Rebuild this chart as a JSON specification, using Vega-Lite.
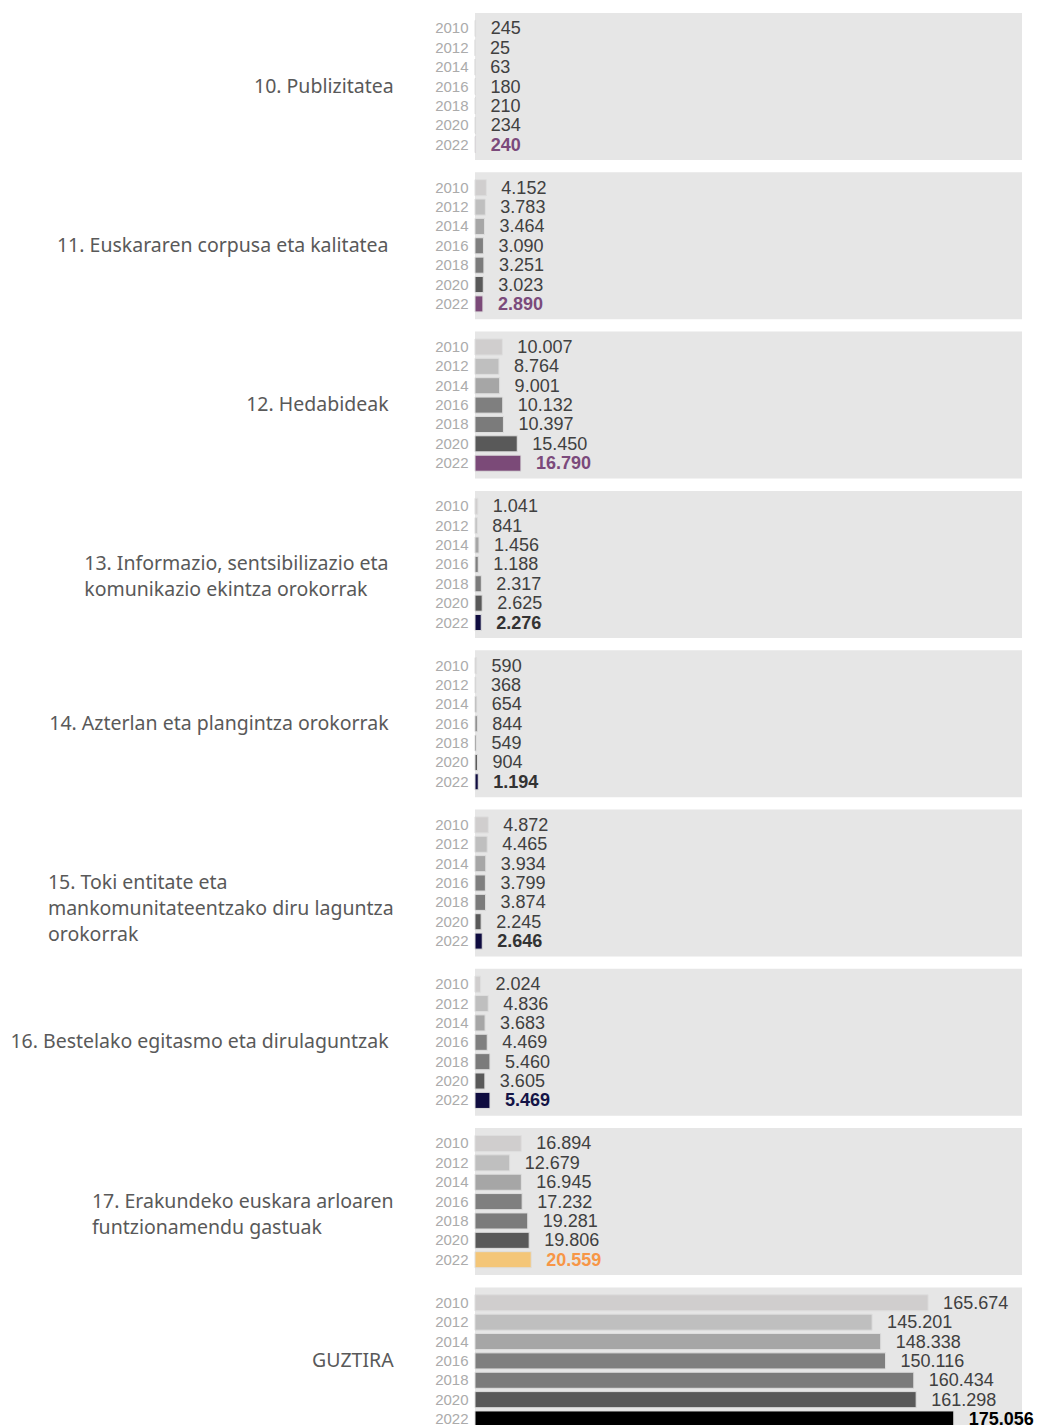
{
  "$schema": "https://vega.github.io/schema/vega-lite/v6.json",
  "padding": {"left": 10, "top": 13, "right": 15, "bottom": 0},
  "background": "#ffffff",
  "config": {
    "view": {"fill": "#e6e6e6", "stroke": null},
    "font": "Liberation Sans",
    "locale": {"number": {"decimal": ",", "thousands": ".", "grouping": [3], "currency": ["", " €"]}}
  },
  "data": {
    "values": [
      {"cat": "10. Publizitatea", "year": 2010, "value": 245},
      {"cat": "10. Publizitatea", "year": 2012, "value": 25},
      {"cat": "10. Publizitatea", "year": 2014, "value": 63},
      {"cat": "10. Publizitatea", "year": 2016, "value": 180},
      {"cat": "10. Publizitatea", "year": 2018, "value": 210},
      {"cat": "10. Publizitatea", "year": 2020, "value": 234},
      {"cat": "10. Publizitatea", "year": 2022, "value": 240},
      {"cat": "11.  Euskararen corpusa eta kalitatea", "year": 2010, "value": 4152},
      {"cat": "11.  Euskararen corpusa eta kalitatea", "year": 2012, "value": 3783},
      {"cat": "11.  Euskararen corpusa eta kalitatea", "year": 2014, "value": 3464},
      {"cat": "11.  Euskararen corpusa eta kalitatea", "year": 2016, "value": 3090},
      {"cat": "11.  Euskararen corpusa eta kalitatea", "year": 2018, "value": 3251},
      {"cat": "11.  Euskararen corpusa eta kalitatea", "year": 2020, "value": 3023},
      {"cat": "11.  Euskararen corpusa eta kalitatea", "year": 2022, "value": 2890},
      {"cat": "12.  Hedabideak", "year": 2010, "value": 10007},
      {"cat": "12.  Hedabideak", "year": 2012, "value": 8764},
      {"cat": "12.  Hedabideak", "year": 2014, "value": 9001},
      {"cat": "12.  Hedabideak", "year": 2016, "value": 10132},
      {"cat": "12.  Hedabideak", "year": 2018, "value": 10397},
      {"cat": "12.  Hedabideak", "year": 2020, "value": 15450},
      {"cat": "12.  Hedabideak", "year": 2022, "value": 16790},
      {"cat": "13.  Informazio, sentsibilizazio eta\nkomunikazio ekintza orokorrak", "year": 2010, "value": 1041},
      {"cat": "13.  Informazio, sentsibilizazio eta\nkomunikazio ekintza orokorrak", "year": 2012, "value": 841},
      {"cat": "13.  Informazio, sentsibilizazio eta\nkomunikazio ekintza orokorrak", "year": 2014, "value": 1456},
      {"cat": "13.  Informazio, sentsibilizazio eta\nkomunikazio ekintza orokorrak", "year": 2016, "value": 1188},
      {"cat": "13.  Informazio, sentsibilizazio eta\nkomunikazio ekintza orokorrak", "year": 2018, "value": 2317},
      {"cat": "13.  Informazio, sentsibilizazio eta\nkomunikazio ekintza orokorrak", "year": 2020, "value": 2625},
      {"cat": "13.  Informazio, sentsibilizazio eta\nkomunikazio ekintza orokorrak", "year": 2022, "value": 2276},
      {"cat": "14.  Azterlan eta plangintza orokorrak", "year": 2010, "value": 590},
      {"cat": "14.  Azterlan eta plangintza orokorrak", "year": 2012, "value": 368},
      {"cat": "14.  Azterlan eta plangintza orokorrak", "year": 2014, "value": 654},
      {"cat": "14.  Azterlan eta plangintza orokorrak", "year": 2016, "value": 844},
      {"cat": "14.  Azterlan eta plangintza orokorrak", "year": 2018, "value": 549},
      {"cat": "14.  Azterlan eta plangintza orokorrak", "year": 2020, "value": 904},
      {"cat": "14.  Azterlan eta plangintza orokorrak", "year": 2022, "value": 1194},
      {"cat": "15.  Toki entitate eta\nmankomunitateentzako diru laguntza\norokorrak", "year": 2010, "value": 4872},
      {"cat": "15.  Toki entitate eta\nmankomunitateentzako diru laguntza\norokorrak", "year": 2012, "value": 4465},
      {"cat": "15.  Toki entitate eta\nmankomunitateentzako diru laguntza\norokorrak", "year": 2014, "value": 3934},
      {"cat": "15.  Toki entitate eta\nmankomunitateentzako diru laguntza\norokorrak", "year": 2016, "value": 3799},
      {"cat": "15.  Toki entitate eta\nmankomunitateentzako diru laguntza\norokorrak", "year": 2018, "value": 3874},
      {"cat": "15.  Toki entitate eta\nmankomunitateentzako diru laguntza\norokorrak", "year": 2020, "value": 2245},
      {"cat": "15.  Toki entitate eta\nmankomunitateentzako diru laguntza\norokorrak", "year": 2022, "value": 2646},
      {"cat": "16.  Bestelako egitasmo eta dirulaguntzak", "year": 2010, "value": 2024},
      {"cat": "16.  Bestelako egitasmo eta dirulaguntzak", "year": 2012, "value": 4836},
      {"cat": "16.  Bestelako egitasmo eta dirulaguntzak", "year": 2014, "value": 3683},
      {"cat": "16.  Bestelako egitasmo eta dirulaguntzak", "year": 2016, "value": 4469},
      {"cat": "16.  Bestelako egitasmo eta dirulaguntzak", "year": 2018, "value": 5460},
      {"cat": "16.  Bestelako egitasmo eta dirulaguntzak", "year": 2020, "value": 3605},
      {"cat": "16.  Bestelako egitasmo eta dirulaguntzak", "year": 2022, "value": 5469},
      {"cat": "17. Erakundeko euskara arloaren\nfuntzionamendu gastuak", "year": 2010, "value": 16894},
      {"cat": "17. Erakundeko euskara arloaren\nfuntzionamendu gastuak", "year": 2012, "value": 12679},
      {"cat": "17. Erakundeko euskara arloaren\nfuntzionamendu gastuak", "year": 2014, "value": 16945},
      {"cat": "17. Erakundeko euskara arloaren\nfuntzionamendu gastuak", "year": 2016, "value": 17232},
      {"cat": "17. Erakundeko euskara arloaren\nfuntzionamendu gastuak", "year": 2018, "value": 19281},
      {"cat": "17. Erakundeko euskara arloaren\nfuntzionamendu gastuak", "year": 2020, "value": 19806},
      {"cat": "17. Erakundeko euskara arloaren\nfuntzionamendu gastuak", "year": 2022, "value": 20559},
      {"cat": "GUZTIRA", "year": 2010, "value": 165674},
      {"cat": "GUZTIRA", "year": 2012, "value": 145201},
      {"cat": "GUZTIRA", "year": 2014, "value": 148338},
      {"cat": "GUZTIRA", "year": 2016, "value": 150116},
      {"cat": "GUZTIRA", "year": 2018, "value": 160434},
      {"cat": "GUZTIRA", "year": 2020, "value": 161298},
      {"cat": "GUZTIRA", "year": 2022, "value": 175056}
    ]
  },
  "spacing": {"row": 12.3},
  "facet": {
    "row": {
      "field": "cat",
      "type": "nominal",
      "title": null,
      "sort": [
        "10. Publizitatea",
        "11.  Euskararen corpusa eta kalitatea",
        "12.  Hedabideak",
        "13.  Informazio, sentsibilizazio eta\nkomunikazio ekintza orokorrak",
        "14.  Azterlan eta plangintza orokorrak",
        "15.  Toki entitate eta\nmankomunitateentzako diru laguntza\norokorrak",
        "16.  Bestelako egitasmo eta dirulaguntzak",
        "17. Erakundeko euskara arloaren\nfuntzionamendu gastuak",
        "GUZTIRA"
      ],
      "header": {
        "labelOrient": "left",
        "labelAngle": 0,
        "labelAlign": "left",
        "labelBaseline": "middle",
        "labelAnchor": "middle",
        "labelFont": "Noto Sans",
        "labelFontSize": 19.5,
        "labelColor": "#595959",
        "labelPadding": 41,
        "labelLineHeight": 26,
        "labelExpr": "split(datum.label, '\\n')"
      }
    }
  },
  "spec": {
    "width": 547,
    "height": 147,
    "encoding": {
      "y": {
        "field": "year",
        "type": "ordinal",
        "title": null,
        "scale": {"paddingInner": 0.17, "paddingOuter": 0.38},
        "axis": {"domain": false, "ticks": false, "labelColor": "#ababab", "labelFontSize": 15, "labelPadding": 6, "labelFont": "Liberation Sans"}
      },
      "x": {
        "field": "value",
        "type": "quantitative",
        "scale": {"domain": [0, 200000]},
        "axis": null
      }
    },
    "layer": [
      {
        "mark": {"type": "bar", "stroke": "#dedede", "strokeWidth": 1},
        "encoding": {
          "color": {
            "condition": [
              {"test": "datum.year == 2022 && datum.cat == 'GUZTIRA'", "value": "#000000"},
              {"test": "datum.year == 2022 && indexof(['10','11','12'], slice(datum.cat, 0, 2)) >= 0", "value": "#7b4a78"},
              {"test": "datum.year == 2022 && slice(datum.cat, 0, 2) == '17'", "value": "#f4c678"},
              {"test": "datum.year == 2022", "value": "#0f0c40"}
            ],
            "field": "year",
            "type": "ordinal",
            "scale": {"domain": [2010, 2012, 2014, 2016, 2018, 2020], "range": ["#d0cece", "#bfbfbf", "#a6a6a6", "#7f7f7f", "#7b7b7b", "#595959"]},
            "legend": null
          }
        }
      },
      {
        "transform": [{"filter": "datum.year != 2022"}],
        "mark": {"type": "text", "align": "left", "baseline": "middle", "dx": 15, "dy": 1, "fontSize": 18, "color": "#404040"},
        "encoding": {"text": {"field": "value", "type": "quantitative", "format": ",d"}}
      },
      {
        "transform": [{"filter": "datum.year == 2022"}],
        "mark": {"type": "text", "align": "left", "baseline": "middle", "dx": 15, "dy": 1, "fontSize": 18, "fontWeight": "bold"},
        "encoding": {
          "text": {"field": "value", "type": "quantitative", "format": ",d"},
          "color": {
            "condition": [
              {"test": "datum.cat == 'GUZTIRA'", "value": "#000000"},
              {"test": "indexof(['10','11','12'], slice(datum.cat, 0, 2)) >= 0", "value": "#7b4a7b"},
              {"test": "slice(datum.cat, 0, 2) == '17'", "value": "#f79646"},
              {"test": "slice(datum.cat, 0, 2) == '16'", "value": "#141446"}
            ],
            "value": "#333333"
          }
        }
      }
    ]
  }
}
